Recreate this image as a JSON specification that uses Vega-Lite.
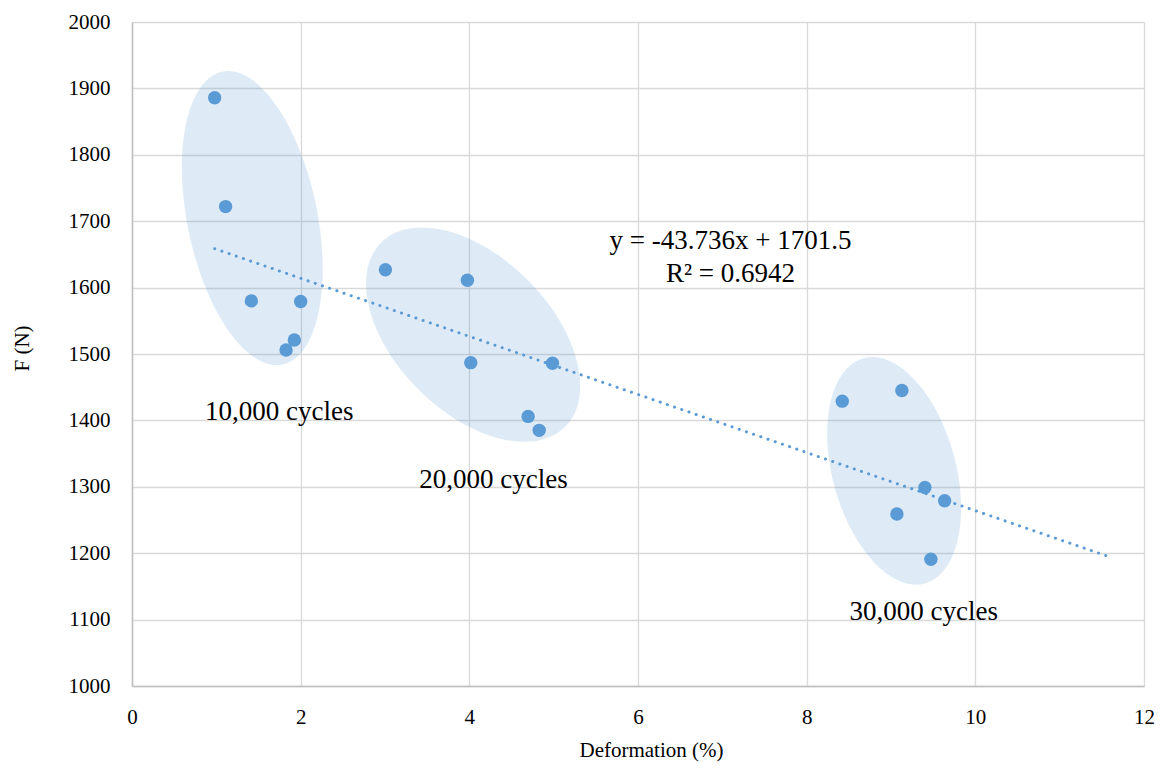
{
  "$schema": "https://vega.github.io/schema/vega-lite/v6.json",
  "width": 1012,
  "height": 664,
  "autosize": {"type": "none"},
  "padding": {"left": 132, "top": 22, "right": 17, "bottom": 83},
  "background": "white",
  "config": {
    "view": {"stroke": null},
    "font": "Liberation Serif",
    "axis": {
      "grid": true,
      "gridColor": "#d9d9d9",
      "gridWidth": 1.3,
      "domainColor": "#bfbfbf",
      "domainWidth": 1.5,
      "ticks": false,
      "format": "d",
      "labelFont": "Liberation Serif",
      "labelFontSize": 21,
      "labelColor": "#000000",
      "labelFlush": false,
      "labelOverlap": false,
      "titleFont": "Liberation Serif",
      "titleFontSize": 21,
      "titleFontWeight": "normal",
      "titleColor": "#000000"
    }
  },
  "datasets": {
    "points": [
      {"deformation": 0.98, "force": 1886},
      {"deformation": 1.11, "force": 1722},
      {"deformation": 1.415, "force": 1580},
      {"deformation": 2.0, "force": 1579},
      {"deformation": 1.925, "force": 1521},
      {"deformation": 1.827, "force": 1506},
      {"deformation": 3.005, "force": 1627},
      {"deformation": 3.977, "force": 1611},
      {"deformation": 4.017, "force": 1487},
      {"deformation": 4.986, "force": 1486},
      {"deformation": 4.697, "force": 1406},
      {"deformation": 4.828, "force": 1385},
      {"deformation": 8.422, "force": 1429},
      {"deformation": 9.129, "force": 1445},
      {"deformation": 9.402, "force": 1299},
      {"deformation": 9.636, "force": 1279},
      {"deformation": 9.07, "force": 1259},
      {"deformation": 9.473, "force": 1191}
    ],
    "ellipses": [
      {"cluster": "10,000 cycles", "deformation": 1.427, "force": 1704.7},
      {"cluster": "20,000 cycles", "deformation": 4.045, "force": 1529},
      {"cluster": "30,000 cycles", "deformation": 9.037, "force": 1324}
    ],
    "trend": [
      {"deformation": 0.98, "force": 1658.6},
      {"deformation": 11.58, "force": 1195.0}
    ],
    "labels": [
      {"text": "10,000 cycles", "deformation": 1.747, "force": 1412},
      {"text": "20,000 cycles", "deformation": 4.287, "force": 1310},
      {"text": "30,000 cycles", "deformation": 9.388, "force": 1112},
      {"text": "y = -43.736x + 1701.5", "deformation": 7.096, "force": 1670},
      {"text": "R² = 0.6942", "deformation": 7.096, "force": 1620}
    ]
  },
  "layer": [
    {
      "data": {"name": "ellipses"},
      "transform": [{"filter": "datum.cluster == '10,000 cycles'"}],
      "mark": {
        "type": "point",
        "shape": "M 0 -1 C 0.2401 -1 0.4348 -0.5523 0.4348 0 C 0.4348 0.5523 0.2401 1 0 1 C -0.2401 1 -0.4348 0.5523 -0.4348 0 C -0.4348 -0.5523 -0.2401 -1 0 -1 Z",
        "size": 89401,
        "angle": 348.4,
        "filled": true,
        "fill": "#5B9BD5",
        "fillOpacity": 0.2,
        "strokeWidth": 0
      },
      "encoding": {
        "x": {
          "field": "deformation",
          "type": "quantitative",
          "scale": {"domain": [0, 12], "nice": false, "zero": false},
          "axis": {
            "title": "Deformation (%)",
            "values": [0, 2, 4, 6, 8, 10, 12],
            "labelPadding": 20,
            "titleX": 519,
            "titleY": 64,
            "titleAlign": "center",
            "titleBaseline": "middle"
          }
        },
        "y": {
          "field": "force",
          "type": "quantitative",
          "scale": {"domain": [1000, 2000], "nice": false, "zero": false},
          "axis": {
            "title": "F (N)",
            "values": [1000, 1100, 1200, 1300, 1400, 1500, 1600, 1700, 1800, 1900, 2000],
            "labelPadding": 22,
            "titleX": -110,
            "titleY": 326,
            "titleAngle": 270,
            "titleAlign": "center",
            "titleBaseline": "middle"
          }
        }
      }
    },
    {
      "data": {"name": "ellipses"},
      "transform": [{"filter": "datum.cluster == '20,000 cycles'"}],
      "mark": {
        "type": "point",
        "shape": "M 0 -1 C 0.3283 -1 0.5945 -0.5523 0.5945 0 C 0.5945 0.5523 0.3283 1 0 1 C -0.3283 1 -0.5945 0.5523 -0.5945 0 C -0.5945 -0.5523 -0.3283 -1 0 -1 Z",
        "size": 67808,
        "angle": 315,
        "filled": true,
        "fill": "#5B9BD5",
        "fillOpacity": 0.2,
        "strokeWidth": 0
      },
      "encoding": {
        "x": {"field": "deformation", "type": "quantitative"},
        "y": {"field": "force", "type": "quantitative"}
      }
    },
    {
      "data": {"name": "ellipses"},
      "transform": [{"filter": "datum.cluster == '30,000 cycles'"}],
      "mark": {
        "type": "point",
        "shape": "M 0 -1 C 0.2920 -1 0.5287 -0.5523 0.5287 0 C 0.5287 0.5523 0.2920 1 0 1 C -0.2920 1 -0.5287 0.5523 -0.5287 0 C -0.5287 -0.5523 -0.2920 -1 0 -1 Z",
        "size": 54476,
        "angle": 344.8,
        "filled": true,
        "fill": "#5B9BD5",
        "fillOpacity": 0.2,
        "strokeWidth": 0
      },
      "encoding": {
        "x": {"field": "deformation", "type": "quantitative"},
        "y": {"field": "force", "type": "quantitative"}
      }
    },
    {
      "data": {"name": "trend"},
      "mark": {
        "type": "line",
        "color": "#5B9BD5",
        "strokeWidth": 3,
        "strokeDash": [0.1, 7.5],
        "strokeCap": "round"
      },
      "encoding": {
        "x": {"field": "deformation", "type": "quantitative"},
        "y": {"field": "force", "type": "quantitative"}
      }
    },
    {
      "data": {"name": "points"},
      "mark": {
        "type": "point",
        "shape": "circle",
        "filled": true,
        "color": "#5B9BD5",
        "opacity": 1,
        "size": 180
      },
      "encoding": {
        "x": {"field": "deformation", "type": "quantitative"},
        "y": {"field": "force", "type": "quantitative"}
      }
    },
    {
      "data": {"name": "labels"},
      "mark": {
        "type": "text",
        "font": "Liberation Serif",
        "fontSize": 27,
        "color": "#000000",
        "align": "center",
        "baseline": "middle"
      },
      "encoding": {
        "x": {"field": "deformation", "type": "quantitative"},
        "y": {"field": "force", "type": "quantitative"},
        "text": {"field": "text"}
      }
    }
  ]
}
